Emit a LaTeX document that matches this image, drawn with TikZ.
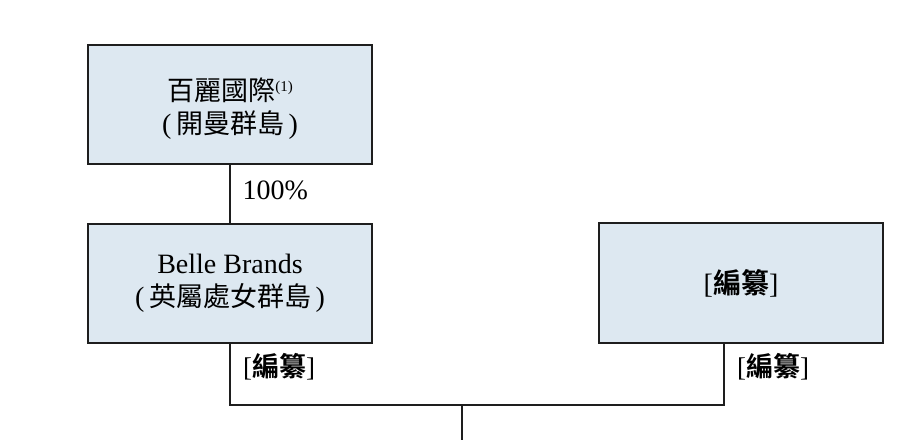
\documentclass[tikz,border=0pt]{standalone}
\usepackage{fontspec}
\setmainfont{Liberation Serif}
\newfontfamily\cjk{Noto Sans CJK TC}
\newfontfamily\cjkb{Noto Sans CJK TC Bold}
\definecolor{boxfill}{RGB}{221,232,241}
\definecolor{linecol}{RGB}{30,30,30}
\newcommand{\cj}[1]{{\cjk\fontsize{27}{33}\selectfont #1}}
\begin{document}
\begin{tikzpicture}[x=1pt,y=1pt,
  entity/.style={draw=linecol, line width=1.8pt, fill=boxfill, minimum width=284pt,
    minimum height=119pt, inner sep=0pt, align=center,
    font=\fontsize{28}{33}\selectfont},
  conn/.style={draw=linecol, line width=1.3pt},
  lbl/.style={inner sep=0pt, font=\fontsize{28}{32}\selectfont},
  redact/.style={inner sep=0pt, font=\fontsize{27}{30}\selectfont}]
\useasboundingbox (0,0) rectangle (924,-440);
\fill[white] (0,0) rectangle (924,-440);
\node[entity] (b1) at (230,-104.5) {\rule{0pt}{30pt}\cj{百麗國際}\raisebox{0.3em}{\fontsize{15}{15}\selectfont (1)}\\(\,\cj{開曼群島}\,)};
\node[entity] (b2) at (230,-283.5) {Belle Brands\\(\,\cj{英屬處女群島}\,)};
\node[entity, minimum height=120pt] (b3) at (741,-283) {[{\cjkb 編纂}]};
\coordinate (j) at (462,-405);
\coordinate (rx) at (724,-405);
\coordinate (bot) at (462,-440);
\draw[conn] (b1.south) -- (b2.north) node[midway, anchor=west, lbl, xshift=12pt, yshift=4pt] {100\%};
\draw[conn] (b2.south) |- (rx) -- (rx |- b3.south);
\draw[conn] (j) -- (bot);
\node[redact, anchor=west] (l1) at (243,-367) {[{\cjkb 編纂}]};
\node[redact, anchor=west] (l2) at (737,-367) {[{\cjkb 編纂}]};
\end{tikzpicture}
\end{document}
